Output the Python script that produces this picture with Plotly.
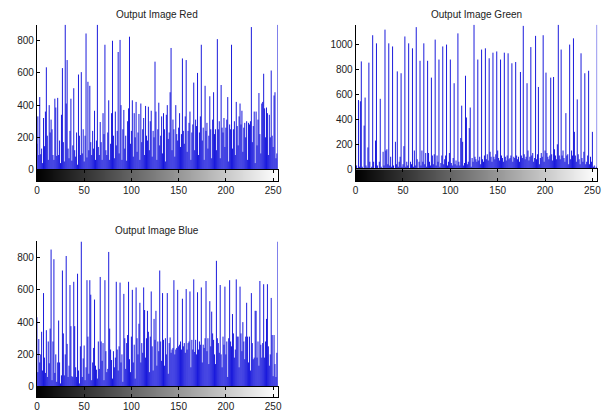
import plotly.graph_objects as go

levels = list(range(256))
gray_levels = list(range(256))

red_counts = [
    160, 330, 90, 450, 95, 130, 40, 320, 145, 360, 635, 210, 60, 400, 230, 310,
    250, 90, 60, 440, 385, 85, 445, 90, 180, 40, 340, 630, 170, 50, 900, 410,
    680, 130, 70, 240, 440, 55, 150, 505, 120, 80, 230, 30, 590, 210, 90, 605,
    100, 250, 50, 210, 845, 75, 545, 120, 520, 170, 90, 240, 130, 365, 60, 180,
    900, 140, 90, 295, 170, 60, 350, 220, 775, 120, 90, 230, 430, 60, 160, 350,
    800, 210, 70, 360, 150, 240, 730, 100, 805, 400, 60, 250, 370, 130, 210, 55,
    300, 380, 825, 160, 240, 430, 80, 350, 200, 420, 110, 230, 345, 60, 410, 170,
    250, 320, 90, 395, 210, 180, 390, 120, 300, 365, 80, 240, 200, 670, 360, 60,
    250, 415, 150, 210, 330, 100, 350, 250, 50, 340, 400, 190, 230, 480, 755, 120,
    310, 250, 80, 400, 220, 180, 260, 350, 140, 220, 690, 240, 160, 330, 680, 110,
    240, 290, 360, 60, 230, 280, 540, 120, 310, 270, 600, 90, 230, 330, 775, 180,
    260, 60, 520, 240, 290, 130, 210, 455, 250, 70, 310, 480, 220, 250, 120, 810,
    250, 300, 70, 525, 260, 230, 320, 140, 260, 310, 450, 50, 280, 250, 775, 130,
    250, 300, 90, 420, 270, 150, 330, 410, 280, 365, 110, 260, 290, 200, 300, 60,
    290, 280, 300, 885, 170, 270, 360, 40, 360, 150, 310, 475, 220, 100, 410, 420,
    595, 380, 200, 385, 350, 90, 340, 200, 615, 210, 140, 460, 480, 70, 100, 900,
]

green_counts = [
    400, 30, 10, 555, 20, 545, 865, 20, 10, 350, 575, 30, 15, 175, 855, 60,
    10, 20, 1075, 60, 10, 230, 1010, 30, 10, 60, 565, 20, 10, 140, 30, 1120,
    150, 160, 40, 1010, 30, 100, 20, 985, 30, 10, 220, 40, 785, 20, 60, 100,
    770, 20, 40, 185, 1065, 20, 60, 30, 1010, 10, 60, 40, 970, 20, 150, 30,
    1140, 80, 10, 60, 870, 30, 150, 60, 1010, 40, 130, 20, 870, 130, 60, 30,
    735, 110, 40, 120, 1040, 30, 110, 60, 880, 20, 50, 110, 985, 40, 80, 110,
    1000, 30, 60, 130, 880, 50, 30, 90, 690, 40, 70, 30, 1090, 60, 30, 250,
    510, 220, 30, 50, 750, 415, 40, 60, 330, 495, 20, 90, 60, 1160, 100, 80,
    60, 880, 70, 100, 40, 960, 80, 60, 110, 970, 80, 120, 70, 890, 140, 100,
    60, 935, 100, 80, 120, 945, 150, 90, 70, 880, 110, 90, 60, 935, 100, 70,
    110, 930, 80, 90, 110, 850, 60, 100, 90, 860, 110, 80, 100, 60, 780, 110,
    90, 1150, 120, 80, 100, 690, 150, 70, 100, 980, 110, 130, 60, 90, 1070, 80,
    120, 660, 40, 90, 130, 100, 1075, 60, 150, 775, 130, 100, 80, 110, 735, 120,
    70, 740, 160, 110, 80, 200, 1160, 110, 80, 960, 110, 150, 90, 60, 450, 110,
    120, 40, 1000, 80, 150, 110, 1050, 300, 110, 60, 560, 120, 80, 40, 930, 90,
    60, 140, 770, 40, 60, 110, 790, 40, 100, 60, 300, 20, 30, 10, 20, 1160,
]

blue_counts = [
    430, 90, 295, 150, 200, 340, 100, 580, 180, 85, 350, 60, 280, 145, 360, 850,
    40, 280, 790, 85, 200, 30, 150, 410, 150, 20, 70, 720, 330, 70, 200, 810,
    265, 60, 130, 630, 375, 65, 60, 650, 375, 120, 60, 700, 100, 20, 250, 900,
    60, 175, 255, 40, 120, 660, 310, 80, 660, 570, 40, 150, 240, 540, 130, 105,
    50, 280, 110, 680, 280, 160, 270, 40, 660, 220, 90, 110, 835, 360, 230, 165,
    50, 220, 120, 180, 650, 230, 100, 250, 645, 150, 200, 30, 575, 300, 110, 270,
    320, 650, 170, 90, 310, 600, 150, 260, 50, 615, 300, 200, 390, 520, 150, 270,
    210, 615, 475, 180, 300, 470, 340, 90, 310, 590, 250, 100, 420, 290, 470, 130,
    280, 220, 720, 280, 160, 580, 290, 130, 300, 200, 580, 80, 270, 305, 210, 230,
    240, 660, 200, 230, 240, 600, 250, 260, 280, 230, 545, 250, 270, 210, 605, 230,
    270, 280, 590, 120, 290, 230, 665, 215, 290, 200, 585, 230, 280, 260, 615, 150,
    260, 240, 300, 655, 220, 300, 140, 530, 250, 465, 330, 290, 200, 140, 780, 300,
    270, 210, 630, 200, 120, 310, 260, 620, 200, 280, 60, 300, 660, 280, 250, 450,
    330, 180, 230, 665, 310, 310, 120, 620, 330, 220, 400, 280, 170, 310, 520, 310,
    150, 310, 100, 580, 270, 170, 180, 470, 470, 180, 280, 130, 655, 260, 180, 270,
    635, 180, 280, 420, 635, 250, 130, 200, 550, 320, 65, 320, 140, 60, 210, 900,
]

titles = ["Output Image Red", "Output Image Green", "Output Image Blue"]
x_ticks = [0, 50, 100, 150, 200, 250]

W, H = 613, 416
FONT = "Liberation Sans, Arial, sans-serif"

# panel geometry in pixels: (left, right, top, zero_line, bar_bottom, ymax, yticks, title_y)
panels = [
    (34.3, 278.0, 25.0, 172.0, 184.0, 900, [0, 200, 400, 600, 800], 15),
    (356.7, 601.0, 25.0, 171.7, 183.7, 1160, [0, 200, 400, 600, 800, 1000], 15),
    (34.3, 278.0, 245.0, 392.3, 403.3, 900, [0, 200, 400, 600, 800], 234),
]
series = [red_counts, green_counts, blue_counts]

fig = go.Figure()
layout = dict(
    width=W, height=H, margin=dict(l=0, r=0, t=0, b=0),
    paper_bgcolor="white", plot_bgcolor="white", showlegend=False,
    font=dict(family=FONT, size=10, color="#222"),
    annotations=[],
)

for k, (counts, title, geo) in enumerate(zip(series, titles, panels)):
    left, right, top, zero, bottom, ymax, yt, ty = geo
    sx = "x" if k == 0 else f"x{2*k+1}"
    sy = "y" if k == 0 else f"y{2*k+1}"
    cx = f"x{2*k+2}"
    cy = f"y{2*k+2}"
    xs, ys = [], []
    for lv, c in zip(levels, counts):
        xs += [lv, lv, None]
        ys += [0, c, None]
    fig.add_trace(go.Scatter(x=xs, y=ys, mode="lines",
                             line=dict(color="#0000d8", width=0.9),
                             hoverinfo="skip", xaxis=sx, yaxis=sy))
    fig.add_trace(go.Heatmap(z=[gray_levels], x=levels, y=[0],
                             colorscale=[[0, "black"], [1, "white"]],
                             showscale=False, hoverinfo="skip",
                             xaxis=cx, yaxis=cy))
    xd = [left / W, right / W]
    sk_x = "xaxis" if k == 0 else f"xaxis{2*k+1}"
    sk_y = "yaxis" if k == 0 else f"yaxis{2*k+1}"
    layout[sk_x] = dict(domain=xd, range=[0, 255], anchor=sy,
                        showticklabels=False, ticks="", showgrid=False,
                        zeroline=False, showline=False)
    layout[sk_y] = dict(domain=[1 - zero / H, 1 - top / H], range=[0, ymax],
                        anchor=sx, tickvals=yt, ticks="inside", ticklen=3,
                        tickcolor="black", showgrid=False, zeroline=False,
                        showline=True, linecolor="black", linewidth=1,
                        tickfont=dict(size=10, color="#222"))
    layout[f"xaxis{2*k+2}"] = dict(domain=xd, range=[0, 255], anchor=cy,
                                   tickvals=x_ticks, ticks="inside", ticklen=3,
                                   tickcolor="black", mirror="ticks",
                                   showline=True, linecolor="black", linewidth=1,
                                   showgrid=False, zeroline=False,
                                   tickfont=dict(size=10, color="#222"))
    layout[f"yaxis{2*k+2}"] = dict(domain=[1 - bottom / H, 1 - zero / H],
                                   range=[-0.5, 0.5], anchor=cx,
                                   showticklabels=False, ticks="", mirror=True,
                                   showline=True, linecolor="black", linewidth=1,
                                   showgrid=False, zeroline=False)
    layout["annotations"].append(dict(
        text=title, x=(left + right) / 2 / W, y=1 - ty / H,
        xref="paper", yref="paper", showarrow=False,
        xanchor="center", yanchor="middle",
        font=dict(size=10, color="#222", family=FONT)))

fig.update_layout(**layout)
fig.write_html("out.html", config={"displayModeBar": False, "staticPlot": True})

# remove the browser's default page margin so the figure sits at the window's corner
with open("out.html", "r", encoding="utf-8") as f:
    html = f.read()
html = html.replace("<head>", "<head><style>html,body{margin:0;padding:0;overflow:hidden;}</style>", 1)
with open("out.html", "w", encoding="utf-8") as f:
    f.write(html)
